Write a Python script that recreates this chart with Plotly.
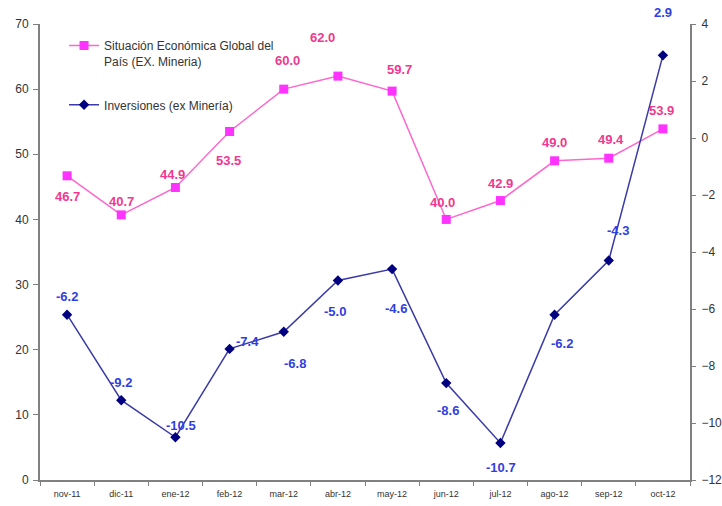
import plotly.graph_objects as go

# Data
months = ['nov-11', 'dic-11', 'ene-12', 'feb-12', 'mar-12', 'abr-12',
          'may-12', 'jun-12', 'jul-12', 'ago-12', 'sep-12', 'oct-12']
situacion = [46.7, 40.7, 44.9, 53.5, 60.0, 62.0, 59.7, 40.0, 42.9, 49.0, 49.4, 53.9]
inversiones = [-6.2, -9.2, -10.5, -7.4, -6.8, -5.0, -4.6, -8.6, -10.7, -6.2, -4.3, 2.9]

# label offsets (px) relative to each point
sit_off = [(0, -21), (0, 13), (-3, 13), (-1, -29), (4, 29), (-15, 39),
           (7, 22), (-4, 17), (0, 17), (0, 18), (2, 19), (-1, 18)]
inv_off = [(0, 18), (0, 18), (6, 12), (18, 7), (11, -32), (-3, -31),
           (4, -39), (2, -27), (1, -25), (7, -29), (9, 30), (0, 43)]

PINK_LINE = '#ff66cc'
PINK_MARK = '#ff33ff'
PINK_TXT = '#f0388f'
BLUE_LINE = '#3a3aa8'
BLUE_MARK = '#000080'
BLUE_TXT = '#2f3fe0'
AXIS = '#808080'

fig = go.Figure()
fig.add_trace(go.Scatter(
    x=months, y=situacion, mode='lines+markers',
    name='Situación Económica Global del<br>País (EX. Mineria)',
    line=dict(color=PINK_LINE, width=1.5),
    marker=dict(symbol='square', size=9, color=PINK_MARK),
    legendgroup='a'
))
fig.add_trace(go.Scatter(
    x=months, y=inversiones, mode='lines+markers', yaxis='y2',
    name='Inversiones (ex Minería)',
    line=dict(color=BLUE_LINE, width=1.5),
    marker=dict(symbol='diamond', size=8, color=BLUE_MARK),
    legendgroup='b'
))

annotations = []
for m, v, (dx, dy) in zip(months, situacion, sit_off):
    annotations.append(dict(x=m, y=v, xref='x', yref='y', text=f'{v:.1f}',
                            showarrow=False, xshift=dx, yshift=dy,
                            font=dict(color=PINK_TXT, size=13, family='Liberation Sans',
                                      weight='bold')))
for m, v, (dx, dy) in zip(months, inversiones, inv_off):
    annotations.append(dict(x=m, y=v, xref='x', yref='y2', text=f'{v:.1f}',
                            showarrow=False, xshift=dx, yshift=dy,
                            font=dict(color=BLUE_TXT, size=13, family='Liberation Sans',
                                      weight='bold')))

fig.update_layout(
    width=722, height=506,
    margin=dict(l=40, r=32, t=24, b=26),
    plot_bgcolor='white', paper_bgcolor='white',
    font=dict(family='Liberation Sans', color='#333333'),
    showlegend=True,
    legend=dict(x=0.037, y=0.984, xanchor='left', yanchor='top', valign='top',
                bgcolor='rgba(0,0,0,0)', font=dict(size=12, color='#333333'),
                tracegroupgap=25, traceorder='grouped'),
    annotations=annotations,
    xaxis=dict(type='category', range=[-0.5, 11.5], showgrid=False, automargin=False,
               showline=True, linecolor=AXIS, linewidth=2,
               ticks='outside', tickson='boundaries', ticklen=4, tickcolor=AXIS,
               ticklabelstandoff=4,
               tickfont=dict(size=9, color='#333333')),
    yaxis=dict(range=[0, 70], dtick=10, showgrid=False, zeroline=False, automargin=False,
               showline=True, linecolor=AXIS, linewidth=2,
               ticks='outside', ticklen=5, tickcolor=AXIS, ticklabelstandoff=2,
               tickfont=dict(size=12, color='#333333')),
    yaxis2=dict(range=[-12, 4], dtick=2, overlaying='y', side='right',
                showgrid=False, zeroline=False, automargin=False,
                showline=True, linecolor=AXIS, linewidth=2,
                ticks='outside', ticklen=4, tickcolor=AXIS, ticklabelstandoff=3,
                tickfont=dict(size=12, color='#333333')),
)

fig.write_html("out.html", config={'displayModeBar': False},
               post_script="document.body.style.margin='0';")
